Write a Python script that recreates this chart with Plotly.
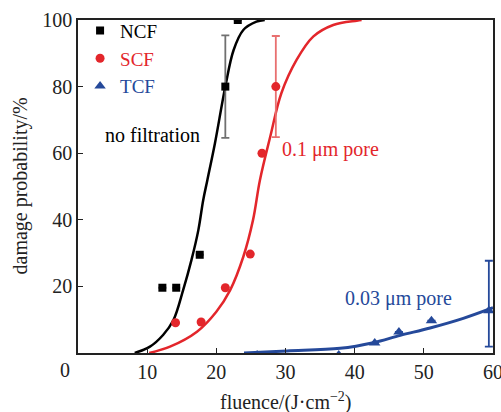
import plotly.graph_objects as go

# Measured damage probability (%) versus fluence (J/cm^2)
ncf_fluence = [12.2, 14.2, 17.6, 21.3, 23.1]
ncf_prob = [19.6, 19.6, 29.5, 80.0, 100.0]
ncf_err = [None, None, None, 15.4, None]

scf_fluence = [14.1, 17.8, 21.3, 24.9, 26.6, 28.6]
scf_prob = [9.1, 9.3, 19.6, 29.7, 60.0, 80.0]
scf_err = [None, None, None, None, None, 15.2]

tcf_fluence = [25.9, 37.7, 42.9, 46.4, 51.1, 59.4]
tcf_prob = [-0.6, -0.6, 3.0, 6.3, 9.7, 12.7]
tcf_err_plus = [None, None, None, None, None, 15.0]
tcf_err_minus = [None, None, None, None, None, 10.8]

# Fitted damage-probability curves
ncf_fit_x = [8.2, 10.4, 12.3, 13.8, 15.2, 16.4, 17.4, 18.1, 18.7, 19.8, 21.3, 22.5, 23.9, 25.8, 27.0]
ncf_fit_y = [0.0, 1.9, 5.4, 9.9, 18.9, 27.9, 36.9, 45.9, 51.9, 63.0, 80.0, 91.0, 97.0, 99.5, 100.0]

scf_fit_x = [10.3, 13.3, 17.2, 20.0, 22.0, 23.9, 25.3, 26.3, 27.8, 29.4, 31.6, 34.0, 36.9, 40.3, 41.0]
scf_fit_y = [0.0, 1.9, 6.4, 12.4, 18.9, 28.9, 39.9, 51.9, 65.0, 78.0, 88.0, 95.0, 98.5, 99.8, 100.0]

tcf_fit_x = [24.0, 30.2, 37.9, 42.7, 46.6, 50.9, 55.7, 60.0]
tcf_fit_y = [0.0, 0.6, 1.4, 3.1, 5.3, 7.5, 10.4, 13.6]

x_ticks = [10, 20, 30, 40, 50, 60]
y_ticks = [20, 40, 60, 80, 100]

BLACK = "#000000"
RED = "#e3262b"
BLUE = "#25499a"
INK = "#222222"
FONT = "'Liberation Serif', 'Times New Roman', Times, serif"

fig = go.Figure()

# fit curves
fig.add_trace(go.Scatter(x=ncf_fit_x, y=ncf_fit_y, mode="lines", line=dict(color=BLACK, width=2.5, shape="spline"),
                         showlegend=False, hoverinfo="skip"))
fig.add_trace(go.Scatter(x=scf_fit_x, y=scf_fit_y, mode="lines", line=dict(color=RED, width=2.5, shape="spline"),
                         showlegend=False, hoverinfo="skip"))
fig.add_trace(go.Scatter(x=tcf_fit_x, y=tcf_fit_y, mode="lines", line=dict(color=BLUE, width=3, shape="spline"),
                         showlegend=False, hoverinfo="skip"))

# measured points
fig.add_trace(go.Scatter(
    x=ncf_fluence, y=ncf_prob, mode="markers", name=f"<span style='color:{BLACK}'>NCF</span>",
    marker=dict(symbol="square", size=8, color=BLACK),
    error_y=dict(type="data", array=ncf_err, color="#707070", thickness=1.8, width=4)))
fig.add_trace(go.Scatter(
    x=scf_fluence, y=scf_prob, mode="markers", name=f"<span style='color:{RED}'>SCF</span>",
    marker=dict(symbol="circle", size=9, color=RED),
    error_y=dict(type="data", array=scf_err, color="#e87070", thickness=1.8, width=4)))
fig.add_trace(go.Scatter(
    x=tcf_fluence, y=tcf_prob, mode="markers", name=f"<span style='color:{BLUE}'>TCF</span>",
    marker=dict(symbol="triangle-up", size=10, color=BLUE),
    error_y=dict(type="data", symmetric=False, array=tcf_err_plus, arrayminus=tcf_err_minus,
                 color=BLUE, thickness=1.8, width=4)))

axis_common = dict(
    showline=True, linecolor=INK, linewidth=1.5, mirror=True,
    ticks="inside", ticklen=5, tickwidth=1.2, tickcolor=INK,
    showgrid=False, zeroline=False, automargin=False, ticklabeloverflow="allow",
    tickfont=dict(family=FONT, size=20, color=INK),
)

fig.update_xaxes(range=[0, 60], tickvals=x_ticks, ticktext=[str(v) for v in x_ticks], **axis_common)
fig.update_yaxes(range=[0, 100], tickvals=y_ticks, ticktext=[str(v) for v in y_ticks], **axis_common)

annotations = [
    # axis titles
    dict(text="fluence/(J·cm<sup>−2</sup>)", xref="paper", yref="paper", x=0.5, y=0,
         xanchor="center", yanchor="middle", yshift=-48, showarrow=False,
         font=dict(family=FONT, size=20, color=INK)),
    dict(text="damage probability/%", xref="paper", yref="paper", x=0, y=0.5, textangle=-90,
         xanchor="center", yanchor="middle", xshift=-58, showarrow=False,
         font=dict(family=FONT, size=20, color=INK)),
    # shared origin label
    dict(text="0", xref="paper", yref="paper", x=0, y=0, xanchor="center", yanchor="middle",
         xshift=-13, yshift=-17, showarrow=False, font=dict(family=FONT, size=20, color=INK)),
    # curve labels
    dict(text="no filtration", x=17.9, y=65.5, showarrow=False, xanchor="right",
         font=dict(family=FONT, size=20, color=BLACK)),
    dict(text="0.1 μm pore", x=29.2, y=61.0, showarrow=False, xanchor="left",
         font=dict(family=FONT, size=20, color=RED)),
    dict(text="0.03 μm pore", x=38.3, y=16.5, showarrow=False, xanchor="left",
         font=dict(family=FONT, size=20, color=BLUE)),
]

fig.update_layout(
    width=501, height=412,
    margin=dict(l=78, r=8, t=20, b=59, autoexpand=False),
    paper_bgcolor="white", plot_bgcolor="white",
    font=dict(family=FONT, size=20, color=INK),
    showlegend=True,
    legend=dict(x=0.005, y=1.025, xanchor="left", yanchor="top", bgcolor="rgba(0,0,0,0)",
                font=dict(family=FONT, size=19), tracegroupgap=0, itemwidth=30),
    annotations=annotations,
)

fig.write_html("out.html")
